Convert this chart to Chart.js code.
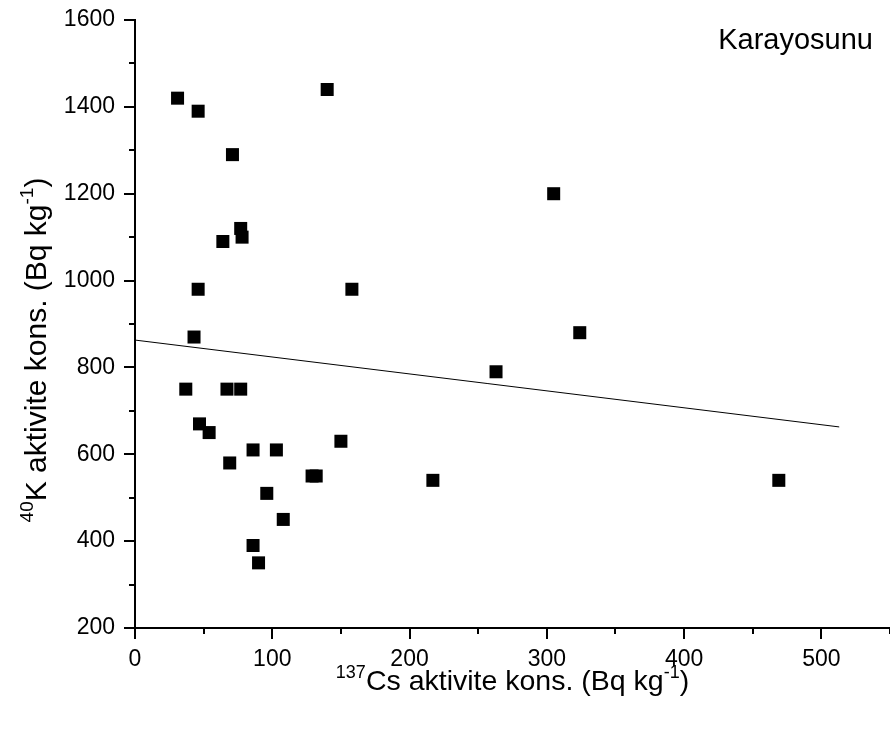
<!DOCTYPE html>
<html>
<head>
<meta charset="utf-8">
<script src="https://cdn.jsdelivr.net/npm/chart.js@4.4.1/dist/chart.umd.min.js"></script>
<style>
  html, body { margin: 0; padding: 0; background: #fff; }
  #wrap { width: 890px; height: 731px; position: relative; }
</style>
</head>
<body>
<div id="wrap"><canvas id="scatterCanvas" width="890" height="731"></canvas></div>
<script>
// 137Cs vs 40K activity, moss samples
const csActivity = [31, 46, 140, 71, 305, 77, 78, 64, 46, 158, 43, 324, 263, 37, 67,
                    77, 47, 54, 150, 86, 103, 69, 129, 132, 217, 469, 96, 108, 86, 90];
const kActivity  = [1420, 1390, 1440, 1290, 1200, 1120, 1100, 1090, 980, 980, 870, 880, 790, 750, 750,
                    750, 670, 650, 630, 610, 610, 580, 550, 550, 540, 540, 510, 450, 390, 350];

// linear fit end points
const fitX = [0, 513];
const fitY = [863, 663];

const xMajor = [0, 100, 200, 300, 400, 500];
const xMinor = [50, 150, 250, 350, 450, 550];
const yMajor = [200, 400, 600, 800, 1000, 1200, 1400, 1600];
const yMinor = [300, 500, 700, 900, 1100, 1300, 1500];

const sampleLabel = 'Karayosunu';
const FONT = "'Liberation Sans', Arial, sans-serif";

function drawRich(ctx, parts, size) {
    // parts: [text, isSuperscript]
    let total = 0;
    parts.forEach(p => {
        ctx.font = (p[1] ? Math.round(size * 0.62) : size) + 'px ' + FONT;
        total += ctx.measureText(p[0]).width;
    });
    let x = -total / 2;
    parts.forEach(p => {
        ctx.font = (p[1] ? Math.round(size * 0.62) : size) + 'px ' + FONT;
        ctx.fillText(p[0], x, p[1] ? -size * 0.42 : 0);
        x += ctx.measureText(p[0]).width;
    });
}

const decorPlugin = {
    id: 'decor',
    afterDraw(chart) {
        const ctx = chart.ctx;
        const xs = chart.scales.x, ys = chart.scales.y;
        const area = chart.chartArea;
        ctx.save();
        ctx.strokeStyle = '#000';
        ctx.lineWidth = 2;
        ctx.beginPath();
        xMajor.concat(xMinor).forEach(v => {
            const px = Math.round(xs.getPixelForValue(v));
            const len = xMajor.includes(v) ? 11 : 6;
            ctx.moveTo(px, area.bottom);
            ctx.lineTo(px, area.bottom + len);
        });
        yMajor.concat(yMinor).forEach(v => {
            const py = Math.round(ys.getPixelForValue(v));
            const len = yMajor.includes(v) ? 11 : 6;
            ctx.moveTo(area.left, py);
            ctx.lineTo(area.left - len, py);
        });
        ctx.stroke();

        ctx.fillStyle = '#000';
        ctx.textBaseline = 'alphabetic';
        ctx.textAlign = 'left';

        // x axis title
        ctx.save();
        ctx.translate((area.left + area.right) / 2, 690);
        drawRich(ctx, [['137', true], ['Cs aktivite kons. (Bq kg', false], ['-1', true], [')', false]], 28.5);
        ctx.restore();

        // y axis title
        ctx.save();
        ctx.translate(46, 350);
        ctx.rotate(-Math.PI / 2);
        drawRich(ctx, [['40', true], ['K aktivite kons. (Bq kg', false], ['-1', true], [')', false]], 30);
        ctx.restore();

        // sample name
        ctx.font = '29px ' + FONT;
        ctx.textAlign = 'right';
        ctx.fillText(sampleLabel, 873, 49);
        ctx.restore();
    }
};

const points = csActivity.map((v, i) => ({x: v, y: kActivity[i]}));
const fitLine = fitX.map((v, i) => ({x: v, y: fitY[i]}));

new Chart(document.getElementById('scatterCanvas'), {
    type: 'scatter',
    data: {
        datasets: [
            {
                label: 'K-40',
                data: points,
                pointStyle: 'rect',
                pointRadius: 9.2,
                pointHoverRadius: 9.2,
                backgroundColor: '#000',
                borderColor: '#000',
                borderWidth: 0,
                order: 1
            },
            {
                label: 'fit',
                type: 'line',
                data: fitLine,
                borderColor: '#000',
                borderWidth: 1,
                pointRadius: 0,
                fill: false,
                order: 2
            }
        ]
    },
    options: {
        responsive: false,
        animation: false,
        devicePixelRatio: 1,
        layout: { autoPadding: false, padding: { top: 20, right: 0, left: 0, bottom: 0 } },
        plugins: { legend: { display: false }, tooltip: { enabled: false } },
        scales: {
            x: {
                type: 'linear',
                min: 0,
                max: 550,
                afterBuildTicks: s => { s.ticks = xMajor.concat(xMinor).sort((a, b) => a - b).map(v => ({value: v})); },
                afterFit: s => { s.height = 103; s.paddingLeft = 0; s.paddingRight = 0; },
                grid: { display: false, drawTicks: false },
                border: { display: true, color: '#000', width: 2 },
                ticks: {
                    padding: 18,
                    maxRotation: 0,
                    autoSkip: false,
                    color: '#000',
                    font: { family: FONT, size: 23 },
                    callback: v => xMajor.includes(v) ? String(v) : ''
                }
            },
            y: {
                type: 'linear',
                min: 200,
                max: 1600,
                afterBuildTicks: s => { s.ticks = yMajor.concat(yMinor).sort((a, b) => a - b).map(v => ({value: v})); },
                afterFit: s => { s.width = 135; s.paddingTop = 0; s.paddingBottom = 0; },
                grid: { display: false, drawTicks: false },
                border: { display: true, color: '#000', width: 2 },
                ticks: {
                    padding: 20,
                    autoSkip: false,
                    color: '#000',
                    font: { family: FONT, size: 23 },
                    callback: v => yMajor.includes(v) ? String(v) : ''
                }
            }
        }
    },
    plugins: [decorPlugin]
});
</script>
</body>
</html>
